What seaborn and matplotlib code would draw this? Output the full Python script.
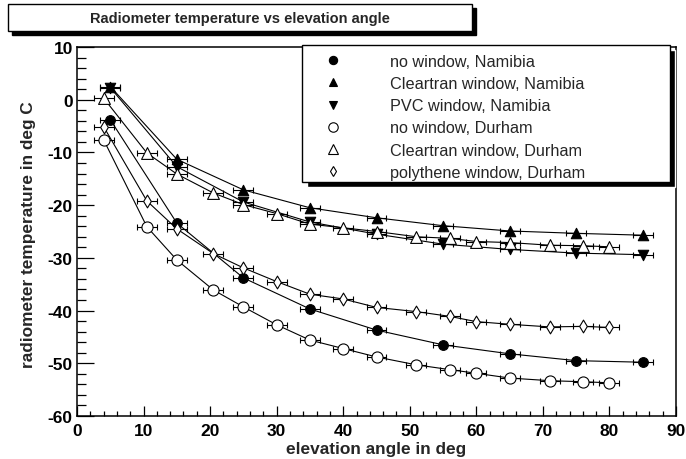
import numpy as np
import pandas as pd
import matplotlib
matplotlib.use('Agg')
import matplotlib.pyplot as plt
import seaborn as sns
from matplotlib.lines import Line2D
from matplotlib.patches import Rectangle

sns.set_style('ticks')
plt.rcParams['font.family'] = ['Liberation Sans', 'DejaVu Sans']
plt.rcParams['axes.unicode_minus'] = False

# elevation angles (deg)
x_nam = [5, 15, 25, 35, 45, 55, 65, 75, 85]
x_dur = [4, 10.5, 15, 20.5, 25, 30, 35, 40, 45, 51, 56, 60, 65, 71, 76, 80]
x_err = 1.5

# radiometer temperatures (deg C)
nowin_nam = [-3.8, -23.4, -33.8, -39.7, -43.7, -46.5, -48.2, -49.5, -49.8]
clear_nam = [2.5, -11.3, -17.1, -20.5, -22.4, -23.9, -24.9, -25.35, -25.7]
pvc_nam = [2.3, -12.7, -19.4, -23.2, -25.5, -27.4, -28.4, -29.1, -29.4]
nowin_dur = [-7.6, -24.1, -30.4, -36.1, -39.3, -42.7, -45.6, -47.2, -48.8,
             -50.3, -51.2, -51.9, -52.8, -53.3, -53.5, -53.7]
clear_dur = [0.3, -10.1, -14.1, -17.7, -19.9, -21.6, -23.6, -24.3, -25.0,
             -26.0, -26.3, -26.9, -27.1, -27.6, -27.7, -27.9]
poly_dur = [-5.1, -19.2, -24.5, -29.2, -31.9, -34.5, -36.9, -37.8, -39.4,
            -40.2, -41.1, -42.1, -42.6, -43.1, -43.0, -43.2]

labels = ['no window, Namibia', 'Cleartran window, Namibia', 'PVC window, Namibia',
          'no window, Durham', 'Cleartran window, Durham', 'polythene window, Durham']
series = [(x_nam, nowin_nam), (x_nam, clear_nam), (x_nam, pvc_nam),
          (x_dur, nowin_dur), (x_dur, clear_dur), (x_dur, poly_dur)]
# marker, fill, size
styles = [('o', 'black', 7), ('^', 'black', 7.5), ('v', 'black', 7.5),
          ('o', 'white', 8), ('^', 'white', 8.5), ('d', 'white', 6.5)]

fig = plt.figure(figsize=(6.86, 4.60), dpi=100)
ax = fig.add_axes([77/686, 1-417/460, 599/686, 369/460])

for (xs, ys), lab, (m, fc, ms) in zip(series, labels, styles):
    df = pd.DataFrame({'angle': xs, 'temp': ys})
    sns.lineplot(data=df, x='angle', y='temp', ax=ax, color='black', lw=0.8,
                 estimator=None, sort=True, zorder=2)
    ax.errorbar(df['angle'], df['temp'], xerr=x_err, fmt='none', ecolor='black',
                elinewidth=0.8, capsize=2.5, capthick=0.8, zorder=3)
    ax.scatter(df['angle'], df['temp'], marker=m, s=ms**2, facecolor=fc,
               edgecolor='black', linewidth=0.8, zorder=4)

ax.set_xlim(0, 90)
ax.set_ylim(-60, 10)
ax.set_xticks(np.arange(0, 91, 10))
ax.set_xticks(np.arange(0, 91, 2), minor=True)
ax.set_yticks(np.arange(-60, 11, 10))
ax.set_yticks(np.arange(-60, 11, 2), minor=True)
ax.tick_params(axis='both', which='both', direction='in', width=0.9, colors='black',
               labelsize=12.5)
ax.tick_params(axis='x', which='major', length=7, pad=5)
ax.tick_params(axis='x', which='minor', length=3.5)
ax.tick_params(axis='y', which='major', length=12.5, pad=3)
ax.tick_params(axis='y', which='minor', length=6.3)
for t in ax.get_xticklabels() + ax.get_yticklabels():
    t.set_fontweight('bold')
for s in ax.spines.values():
    s.set_visible(True)
    s.set_linewidth(1.1)
    s.set_color('black')

ax.set_xlabel('elevation angle in deg', fontsize=12.4, fontweight='bold')
ax.set_ylabel('radiometer temperature in deg C', fontsize=12.4, fontweight='bold')
ax.xaxis.set_label_coords(0.5, -0.068)
ax.yaxis.set_label_coords(-0.068, 0.495)

# title box with shadow
fig.patches.append(Rectangle((12/686, 1-36/460), 464/686, 27/460, transform=fig.transFigure,
                             facecolor='black', edgecolor='black', zorder=1))
fig.patches.append(Rectangle((8/686, 1-32/460), 464/686, 27/460, transform=fig.transFigure,
                             facecolor='white', edgecolor='black', lw=1, zorder=2))
fig.text(240/686, 1-18.5/460, 'Radiometer temperature vs elevation angle', ha='center',
         va='center', fontsize=10.5, fontweight='bold', zorder=3)

# legend box with shadow
lx0, ly0, lx1, ly1 = 302, 46, 670, 183
fig.patches.append(Rectangle(((lx0+5)/686, 1-(ly1+5)/460), (lx1-lx0)/686, (ly1-ly0)/460,
                             transform=fig.transFigure, facecolor='black', zorder=5))
fig.patches.append(Rectangle((lx0/686, 1-ly1/460), (lx1-lx0)/686, (ly1-ly0)/460,
                             transform=fig.transFigure, facecolor='white', edgecolor='black',
                             lw=1, zorder=6))
handles = [Line2D([], [], ls='none', marker=m, markersize=ms*0.85, markerfacecolor=fc,
                  markeredgecolor='black', markeredgewidth=0.8)
           for (m, fc, ms) in styles]
leg = fig.legend(handles, labels, loc='upper left', bbox_to_anchor=(310/686, 1-55/460),
                 frameon=False, fontsize=11.7, handlelength=2.83, handletextpad=2.1,
                 labelspacing=0.44, borderpad=0, borderaxespad=0)
leg.set_zorder(7)

fig.savefig('out.png', dpi=100, facecolor='white')
